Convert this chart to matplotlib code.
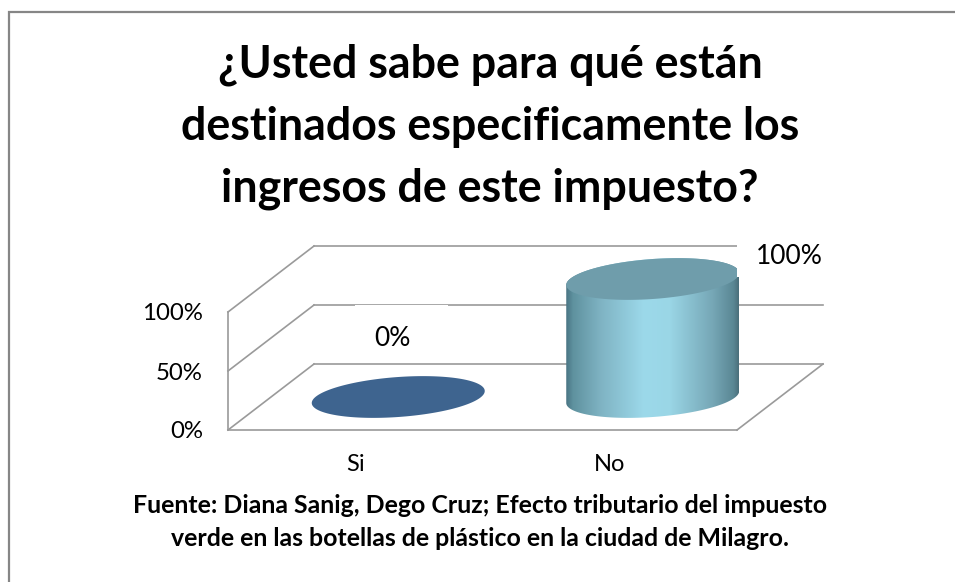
import matplotlib
matplotlib.use('Agg')
import numpy as np
import matplotlib.pyplot as plt
from matplotlib.colors import LinearSegmentedColormap
from matplotlib.patches import PathPatch, Rectangle
from matplotlib.path import Path

categories = ["Si", "No"]
values = [0, 100]
value_labels = ["0%", "100%"]
y_ticks = [0, 50, 100]
y_tick_labels = ["0%", "50%", "100%"]
title = "¿Usted sabe para qué están\ndestinados especificamente los\ningresos de este impuesto?"
source = "Fuente: Diana Sanig, Dego Cruz; Efecto tributario del impuesto\nverde en las botellas de plástico en la ciudad de Milagro."

plt.rcParams['font.family'] = ['Lato', 'DejaVu Sans']
W, H = 955, 582
fig = plt.figure(figsize=(W / 100, H / 100), dpi=100, facecolor='white')

# page background, in pixels, for the border and the texts
bg = fig.add_axes([0, 0, 1, 1])
bg.set_xlim(0, W)
bg.set_ylim(H, 0)
bg.axis('off')
bg.plot([9, 9, W], [H, 12, 12], color='#868686', lw=1.6, solid_joinstyle='miter')
bg.text(490, 127, title, ha='center', va='center', fontsize=32.2, fontweight='bold',
        color='black', linespacing=1.58)
bg.text(480, 522, source, ha='center', va='center', fontsize=17.9, fontweight='bold',
        color='black', linespacing=1.52)

# front plane of the 3d box is the real axes
ax = fig.add_axes([228 / W, (H - 430) / H, 509 / W, 118 / H])
ax.set_facecolor('none')
ax.set_xlim(0, 2)
ax.set_ylim(0, 100)
GREY = '#9a9a9a'
px = 2 / 509     # data units per pixel, x
py = 100 / 118   # data units per pixel, y
dx = 86 * px     # full depth of the box
dy = 66 * py


def back(x, y, depth=1.0):
    return x + depth * dx, y + depth * dy


for s in ['top', 'right']:
    ax.spines[s].set_visible(False)
for s in ['left', 'bottom']:
    ax.spines[s].set_color(GREY)
    ax.spines[s].set_linewidth(1.2)
ax.set_xticks([i + 0.5 for i in range(len(categories))])
ax.set_xticklabels(categories)
ax.set_yticks(y_ticks)
ax.set_yticklabels(y_tick_labels)
ax.tick_params(axis='x', length=0, pad=17, labelsize=17)
ax.tick_params(axis='y', length=0, pad=18, labelsize=17.3)

# walls and floor
for t in y_ticks:
    bx, by = back(0, t)
    ax.plot([0, bx], [t, by], color=GREY, lw=1.2, clip_on=False, zorder=1)
    ex, ey = back(2, t)
    ax.plot([bx, ex], [by, ey], color=GREY, lw=1.2, clip_on=False, zorder=1)
ex, ey = back(2, 0)
ax.plot([2, ex], [0, ey], color=GREY, lw=1.2, clip_on=False, zorder=1)


def ellipse(cx, cy, t):
    # sheared ellipse lying in the floor plane
    a, b, s = 86.5 * px, 20 * py, 6 * py
    return cx + a * np.cos(t), cy + b * np.sin(t) + s * np.cos(t)


body_cmap = LinearSegmentedColormap.from_list('body', [
    (0.0, '#4a7584'), (0.04, '#5f929f'), (0.2, '#7fb3c3'), (0.45, '#9cd9ea'),
    (0.6, '#9ad6e6'), (0.85, '#76a7b6'), (0.97, '#5a8794'), (1.0, '#4b6f7b')])

for i, v in enumerate(values):
    cx, cy = back(i + 0.5, 0, 0.5)
    tt = np.linspace(0, 2 * np.pi, 200)
    if v > 0:
        lower = np.linspace(np.pi, 2 * np.pi, 100)
        upper = np.linspace(0, np.pi, 100)
        xb, yb = ellipse(cx, cy, lower)
        xt, yt = ellipse(cx, cy + v, upper)
        verts = np.column_stack([np.r_[xb, xt], np.r_[yb, yt]])
        clip = PathPatch(Path(np.vstack([verts, verts[:1]]), closed=True), transform=ax.transData,
                         fc='none', ec='none')
        ax.add_patch(clip)
        im = ax.imshow(np.linspace(0, 1, 256).reshape(1, -1), cmap=body_cmap, aspect='auto',
                       extent=[xb.min(), xb.max(), yb.min(), yt.max()], zorder=3)
        im.set_clip_path(clip)
        im.set_clip_box(fig.bbox)
    xe, ye = ellipse(cx, cy + v, tt)
    ax.fill(xe, ye, color='#6f9dab' if v > 0 else '#3e648f', lw=0, clip_on=False, zorder=4)

# white boxes behind the data labels, they cut the grid and the cylinder
ax.add_patch(Rectangle((127 * px, 84 * py), 93 * px, 41 * py, fc='white', ec='none', zorder=5, clip_on=False))
ax.add_patch(Rectangle((509 * px, 153 * py), 110 * px, 42 * py, fc='white', ec='none', zorder=5, clip_on=False))
ax.text(164 * px, 92 * py, value_labels[0], ha='center', va='center', fontsize=19, zorder=6)
ax.text(561 * px, 174 * py, value_labels[1], ha='center', va='center', fontsize=19, zorder=6)

ax.set_xlim(0, 2)
ax.set_ylim(0, 100)
fig.savefig('out.png', dpi=100)
